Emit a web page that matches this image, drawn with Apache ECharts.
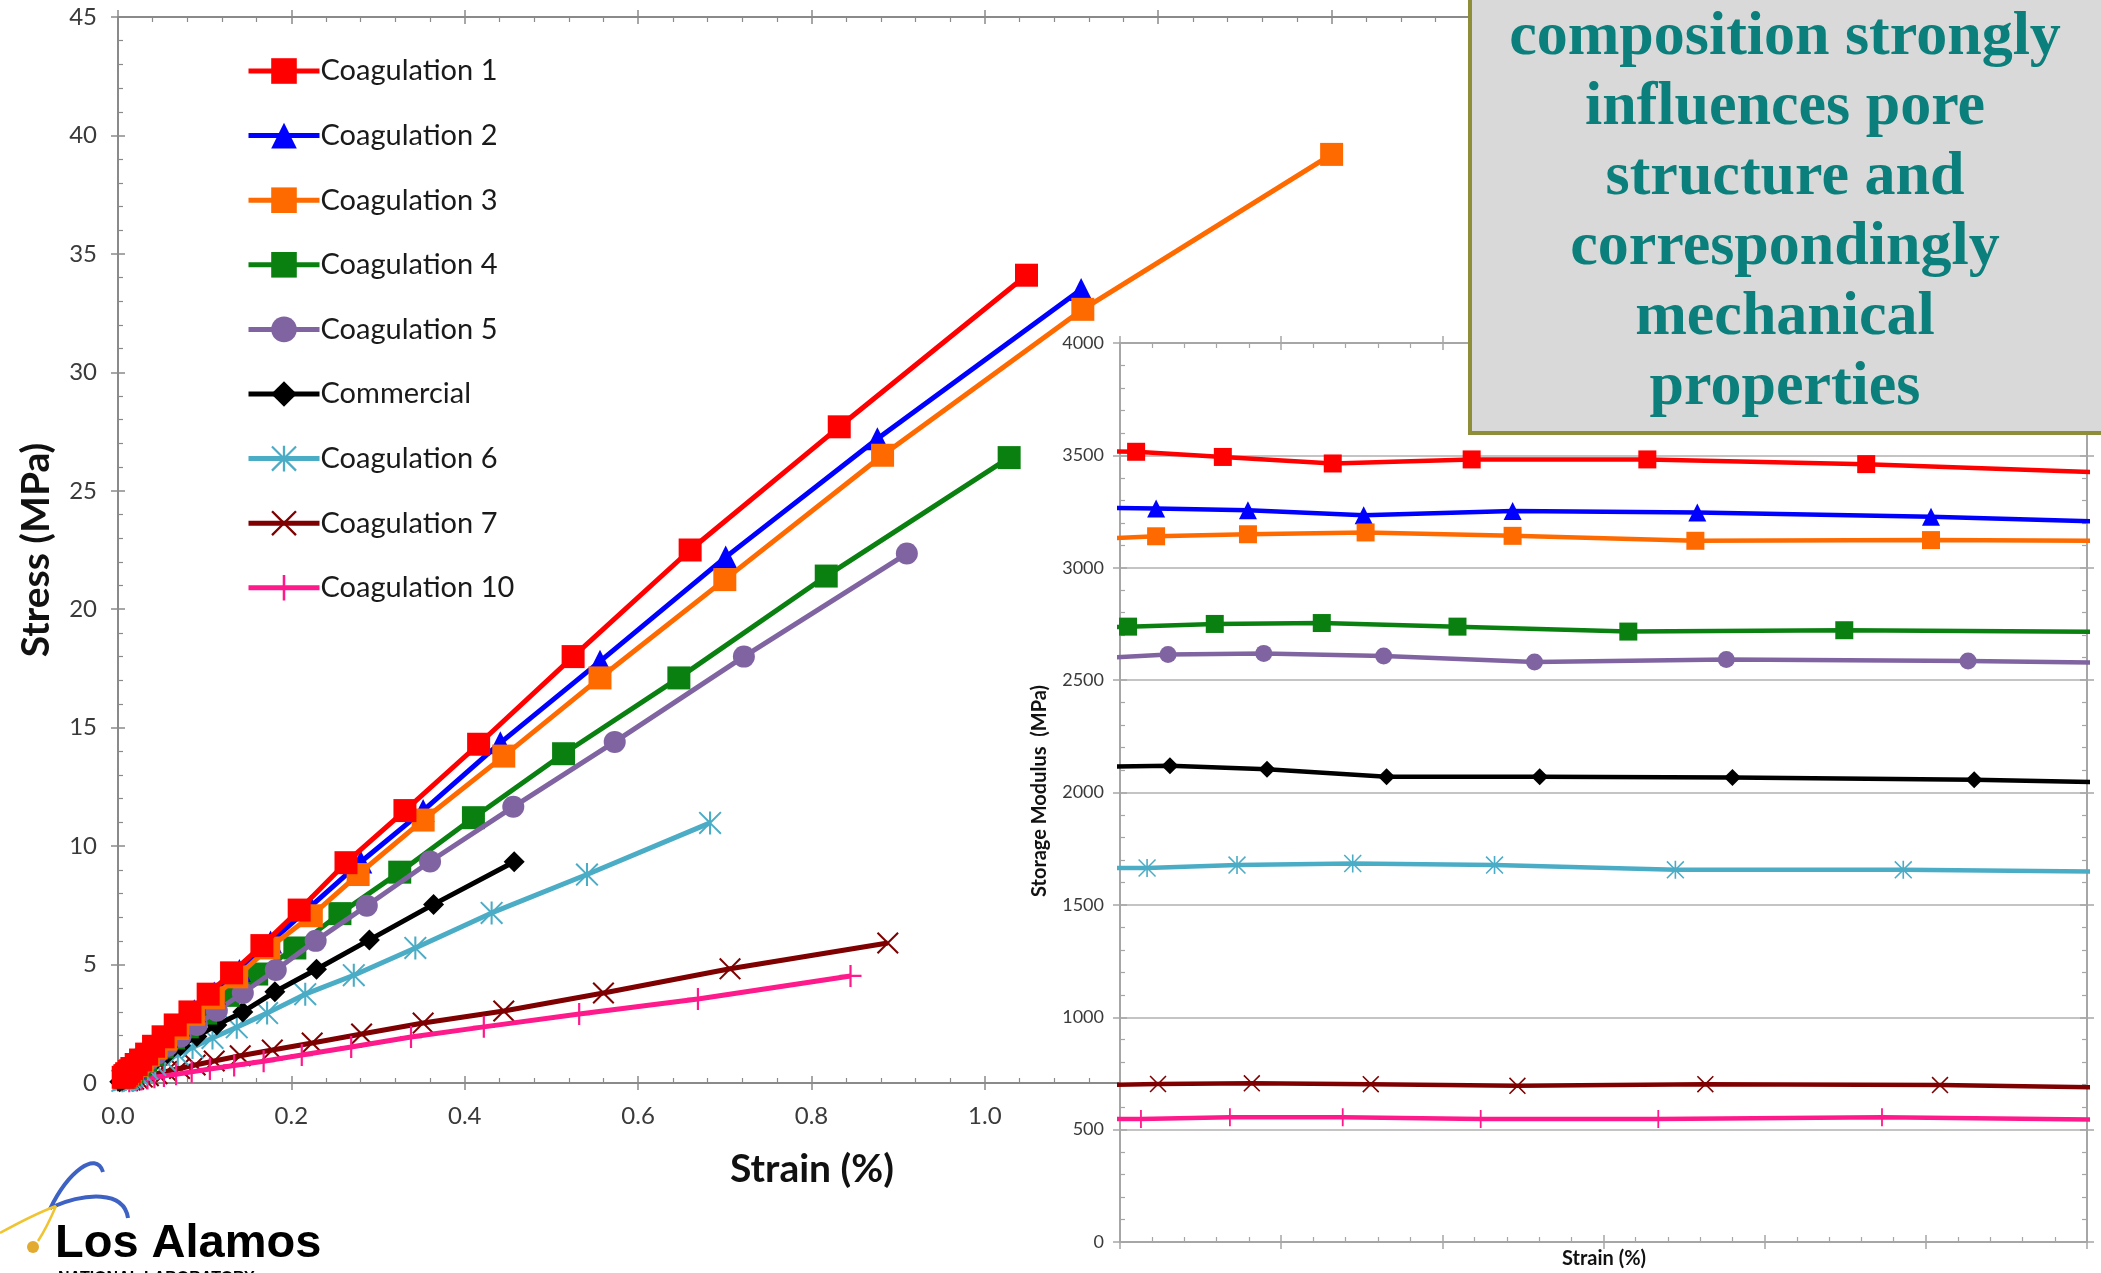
<!DOCTYPE html>
<html><head><meta charset="utf-8">
<script src="https://cdn.jsdelivr.net/npm/echarts@6/dist/echarts.min.js"></script>
<style>html,body{margin:0;padding:0;background:#fff;overflow:hidden}#c{width:2101px;height:1273px}</style>
</head><body><div id="c"></div>
<script>
// ---------------- DATA ----------------
const seriesNames = ['Coagulation 1','Coagulation 2','Coagulation 3','Coagulation 4','Coagulation 5','Commercial','Coagulation 6','Coagulation 7','Coagulation 10'];

// Main chart: strain (%) and stress (MPa)
const c1Strain = [1.048,0.832,0.660,0.525,0.416,0.331,0.263,0.209,0.166,0.131,0.104,0.083,0.066,0.052,0.041,0.033,0.026,0.021,0.016,0.013,0.010,0.008,0.006];
const c1Stress = [34.1,27.7,22.5,18.0,14.3,11.5,9.3,7.3,5.8,4.65,3.75,3.0,2.45,1.95,1.55,1.22,0.97,0.78,0.61,0.49,0.39,0.31,0.24];
const c2Strain = [1.111,0.876,0.701,0.556,0.441,0.352,0.280,0.222,0.176,0.140,0.111,0.088,0.070,0.056,0.044,0.035,0.028,0.022,0.018,0.014,0.011,0.009];
const c2Stress = [33.5,27.2,22.2,17.8,14.36,11.5,9.33,7.45,5.95,4.75,3.8,3.05,2.45,1.97,1.57,1.25,1.0,0.8,0.64,0.5,0.4,0.32];
const c3Strain = [1.400,1.113,0.882,0.700,0.556,0.445,0.352,0.277,0.223,0.174,0.137,0.110,0.087,0.069,0.055,0.044,0.035,0.028,0.022,0.017,0.014,0.011,0.009];
const c3Stress = [39.2,32.66,26.5,21.25,17.1,13.8,11.1,8.8,7.06,5.7,4.48,3.6,2.9,2.3,1.85,1.48,1.18,0.94,0.75,0.6,0.48,0.38,0.3];
const c4Strain = [1.028,0.817,0.647,0.514,0.410,0.325,0.256,0.204,0.160,0.127,0.101,0.080,0.064,0.051,0.040,0.032,0.025,0.020,0.016,0.013,0.010,0.008];
const c4Stress = [26.4,21.4,17.1,13.9,11.2,8.9,7.15,5.7,4.6,3.7,2.95,2.37,1.9,1.52,1.2,0.96,0.76,0.61,0.49,0.39,0.31,0.25];
const c5Strain = [0.910,0.722,0.573,0.456,0.360,0.287,0.228,0.182,0.144,0.114,0.091,0.072,0.057,0.045,0.036,0.029,0.023,0.018,0.014,0.011,0.009];
const c5Stress = [22.35,18.0,14.4,11.66,9.35,7.48,6.0,4.77,3.8,3.05,2.45,1.95,1.56,1.24,0.99,0.8,0.64,0.5,0.4,0.32,0.26];
const comStrain = [0.457,0.364,0.290,0.229,0.181,0.144,0.114,0.091,0.072,0.057,0.045,0.036,0.029,0.023,0.018,0.014,0.011,0.009,0.007,0.005,0.002];
const comStress = [9.34,7.54,6.04,4.8,3.85,3.0,2.45,1.96,1.57,1.25,1.0,0.8,0.64,0.51,0.41,0.33,0.26,0.21,0.16,0.12,0.05];
const c6Strain = [0.683,0.541,0.431,0.343,0.272,0.216,0.172,0.137,0.109,0.086,0.069,0.054,0.043,0.034,0.027,0.022,0.017,0.014,0.011,0.009,0.007,0.005];
const c6Stress = [10.98,8.8,7.18,5.7,4.55,3.75,2.95,2.35,1.9,1.5,1.2,0.95,0.76,0.6,0.48,0.38,0.3,0.24,0.19,0.15,0.12,0.09];
const c7Strain = [0.888,0.706,0.560,0.445,0.352,0.281,0.224,0.178,0.141,0.111,0.089,0.071,0.056,0.045,0.035,0.028,0.022,0.018,0.014,0.011];
const c7Stress = [5.91,4.82,3.80,3.04,2.53,2.07,1.69,1.39,1.15,0.93,0.76,0.61,0.49,0.39,0.31,0.25,0.2,0.16,0.13,0.1];
const c10Strain = [0.845,0.669,0.532,0.422,0.338,0.269,0.212,0.168,0.134,0.106,0.085,0.067,0.053,0.042,0.034,0.027,0.021,0.017,0.013];
const c10Stress = [4.52,3.55,2.91,2.37,1.94,1.52,1.18,0.92,0.74,0.59,0.47,0.37,0.3,0.24,0.19,0.15,0.12,0.09,0.07];

// Inset: strain position (axis without labels, 0-30) and storage modulus (MPa)
const i1Strain = [-1.6,0.5,3.19,6.6,10.91,16.36,23.15,31.7];
const i1Mod    = [3521,3516,3493,3464,3482,3482,3461,3418];
const i2Strain = [-1.14,1.12,3.97,7.56,12.18,17.91,25.16,34.3];
const i2Mod    = [3268,3264,3256,3234,3252,3246,3227,3190];
const i3Strain = [-1.14,1.12,3.97,7.62,12.18,17.85,25.16,34.3];
const i3Mod    = [3125,3140,3149,3157,3142,3120,3123,3118];
const i4Strain = [-2.1,0.25,2.94,6.26,10.47,15.77,22.47,30.9];
const i4Mod    = [2728,2738,2750,2754,2738,2716,2722,2714];
const i5Strain = [-0.87,1.49,4.46,8.18,12.86,18.81,26.31,35.8];
const i5Mod    = [2596,2614,2619,2607,2581,2592,2585,2568];
const icStrain = [-0.82,1.55,4.56,8.27,13.02,19.0,26.5,36.0];
const icMod    = [2114,2119,2103,2070,2070,2067,2057,2030];
const i6Strain = [-1.37,0.84,3.63,7.22,11.62,17.23,24.3,33.2];
const i6Mod    = [1664,1664,1677,1684,1677,1656,1656,1644];
const i7Strain = [-1.1,1.18,4.09,7.78,12.33,18.16,25.44,34.6];
const i7Mod    = [698,703,706,702,695,702,698,680];
const i10Strain = [-1.55,0.65,3.41,6.91,11.19,16.70,23.64,32.4];
const i10Mod    = [547,547,555,555,547,547,555,541];

const mainXTicks = [0,0.2,0.4,0.6,0.8,1.0,1.2,1.4,1.6];
const mainYTicks = [0,5,10,15,20,25,30,35,40,45];
const insetYTicks = [0,500,1000,1500,2000,2500,3000,3500,4000];
const calloutLines = ['composition strongly','influences pore','structure and','correspondingly','mechanical','properties'];

// ---------------- STYLES ----------------
const P_AST = 'path://M0,1.2 L1.2,0 L10,8.8 L18.8,0 L20,1.2 L11.2,10 L20,18.8 L18.8,20 L10,11.2 L1.2,20 L0,18.8 L8.8,10 Z M9.1,0 L10.9,0 L10.9,20 L9.1,20 Z';
const P_X = 'path://M0,1.3 L1.3,0 L10,8.7 L18.7,0 L20,1.3 L11.3,10 L20,18.7 L18.7,20 L10,11.3 L1.3,20 L0,18.7 L8.7,10 Z';
const P_PLUS = 'path://M9,0 L11,0 L11,9 L20,9 L20,11 L11,11 L11,20 L9,20 L9,11 L0,11 L0,9 L9,9 Z';
const colors = ['#ff0000','#0000ff','#ff6a00','#0a8010','#8064a2','#000000','#4bacc6','#7f0000','#ff1a8c'];
const symbols = ['rect','triangle','rect','rect','circle','diamond',P_AST,P_X,P_PLUS];
const mainSizes = [23,23,23,23,22,21,23,22,22];
const insetSizes = [18,18,18,18,17,17,18,17,18];
const mainZ = [9,7,8,5,6,4,3.5,2.5,3];

const mainData = [[c1Strain,c1Stress],[c2Strain,c2Stress],[c3Strain,c3Stress],[c4Strain,c4Stress],[c5Strain,c5Stress],[comStrain,comStress],[c6Strain,c6Stress],[c7Strain,c7Stress],[c10Strain,c10Stress]];
const insetData = [[i1Strain,i1Mod],[i2Strain,i2Mod],[i3Strain,i3Mod],[i4Strain,i4Mod],[i5Strain,i5Mod],[icStrain,icMod],[i6Strain,i6Mod],[i7Strain,i7Mod],[i10Strain,i10Mod]];
const pair = (xs, ys) => xs.map((x, j) => [x, ys[j]]);

const AX = '#8a8a8a', AXI = '#a6a6a6', LBL = '#3a3a3a';
const FONT = 'Lato, "Open Sans", sans-serif';

function tickAxes(grid, pos, cfg, withLabels, color, z) {
  const base = Object.assign({ gridIndex: grid, type: 'value', position: pos, z: z, silent: true,
    splitLine: { show: false } }, cfg);
  const a = Object.assign({}, base, {
    axisLine: { show: true, onZero: false, lineStyle: { color: color, width: 2 } },
    axisTick: { show: true, inside: false, length: 7, lineStyle: { color: color, width: 1.5 } },
    minorTick: { show: false },
    axisLabel: withLabels || { show: false }
  });
  const b = Object.assign({}, base, {
    axisLine: { show: false, onZero: false },
    axisTick: { show: true, inside: true, length: 7, lineStyle: { color: color, width: 1.5 } },
    minorTick: { show: true, splitNumber: 5, length: 5, lineStyle: { color: color, width: 1.2 } },
    axisLabel: { show: false }
  });
  return [a, b];
}

const mainX = { min: mainXTicks[0], max: mainXTicks[mainXTicks.length - 1], interval: mainXTicks[1] - mainXTicks[0] };
const mainY = { min: mainYTicks[0], max: mainYTicks[mainYTicks.length - 1], interval: mainYTicks[1] - mainYTicks[0] };
const insX = { min: 0, max: 30, interval: 5 };
const insY = { min: insetYTicks[0], max: insetYTicks[insetYTicks.length - 1], interval: insetYTicks[1] - insetYTicks[0] };

const xAxes = [].concat(
  tickAxes(0, 'bottom', mainX, { show: true, margin: 21, fontSize: 24, color: LBL, fontFamily: FONT, formatter: v => v.toFixed(1) }, AX, 0),
  tickAxes(0, 'top', mainX, null, AX, 0),
  tickAxes(1, 'bottom', insX, null, AXI, 11),
  tickAxes(1, 'top', insX, null, AXI, 11)
);
const yMainA = tickAxes(0, 'left', mainY, { show: true, margin: 21, fontSize: 24, color: LBL, fontFamily: FONT }, AX, 0);
const yInsA = tickAxes(1, 'left', insY, { show: true, margin: 16, fontSize: 18, color: LBL, fontFamily: FONT, formatter: v => String(v) }, AXI, 11);
yInsA[0].splitLine = { show: true, lineStyle: { color: '#c4c4c4', width: 2 } };
const yInsR = tickAxes(1, 'right', insY, null, AXI, 11);
const yAxes = [].concat(yMainA, yInsA, yInsR);

const series = [];
seriesNames.forEach((n, i) => {
  series.push({
    type: 'line', name: n, xAxisIndex: 0, yAxisIndex: 0, z: mainZ[i],
    data: pair(mainData[i][0], mainData[i][1]),
    symbol: symbols[i], symbolSize: mainSizes[i], showSymbol: true, clip: true,
    lineStyle: { color: colors[i], width: 5 },
    itemStyle: { color: colors[i], borderWidth: 0 },
    emphasis: { disabled: true }, animation: false
  });
});
seriesNames.forEach((n, i) => {
  series.push({
    type: 'line', name: 'inset ' + n, xAxisIndex: 4, yAxisIndex: 2, z: 12,
    data: pair(insetData[i][0], insetData[i][1]),
    symbol: symbols[i], symbolSize: insetSizes[i], showSymbol: true, clip: true,
    lineStyle: { color: colors[i], width: 4.5 },
    itemStyle: { color: colors[i], borderWidth: 0 },
    emphasis: { disabled: true }, animation: false
  });
});

const graphics = [
  // callout box
  { type: 'rect', z: 40, shape: { x: 1470, y: -10, width: 700, height: 443 },
    style: { fill: '#d9d9d9', stroke: '#8e8e38', lineWidth: 4 } },
  { type: 'text', z: 41, x: 1785, y: 3,
    style: { text: calloutLines.join('\n'), fill: '#0a7f7b', textAlign: 'center', textVerticalAlign: 'top',
      font: 'bold 62px "Liberation Serif", serif', lineHeight: 70 } },
  // axis titles
  { type: 'text', z: 20, x: 36, y: 550, rotation: Math.PI / 2,
    style: { text: 'Stress (MPa)', fill: '#111', textAlign: 'center', textVerticalAlign: 'middle', font: 'bold 39px Lato, sans-serif' } },
  { type: 'text', z: 20, x: 812, y: 1169,
    style: { text: 'Strain (%)', fill: '#111', textAlign: 'center', textVerticalAlign: 'middle', font: 'bold 39px Lato, sans-serif' } },
  { type: 'text', z: 20, x: 1040, y: 791, rotation: Math.PI / 2,
    style: { text: 'Storage Modulus  (MPa)', fill: '#111', textAlign: 'center', textVerticalAlign: 'middle', font: 'bold 20px Lato, sans-serif' } },
  { type: 'text', z: 20, x: 1604, y: 1259,
    style: { text: 'Strain (%)', fill: '#111', textAlign: 'center', textVerticalAlign: 'middle', font: 'bold 20px Lato, sans-serif' } },
  // logo
  { type: 'bezierCurve', z: 20, shape: { x1: 50, y1: 1209, cpx1: 68, cpy1: 1172, cpx2: 96, cpy2: 1150, x2: 103, y2: 1172 },
    style: { stroke: '#3d62c4', lineWidth: 4, fill: null } },
  { type: 'bezierCurve', z: 20, shape: { x1: 52, y1: 1207, cpx1: 85, cpy1: 1193, cpx2: 124, cpy2: 1190, x2: 128, y2: 1218 },
    style: { stroke: '#3d62c4', lineWidth: 4, fill: null } },
  { type: 'bezierCurve', z: 20, shape: { x1: 0, y1: 1233, cpx1: 20, cpy1: 1222, cpx2: 40, cpy2: 1212, x2: 56, y2: 1206 },
    style: { stroke: '#f0c431', lineWidth: 2.5, fill: null } },
  { type: 'bezierCurve', z: 20, shape: { x1: 56, y1: 1206, cpx1: 50, cpy1: 1220, cpx2: 44, cpy2: 1232, x2: 38, y2: 1241 },
    style: { stroke: '#f0c431', lineWidth: 2.5, fill: null } },
  { type: 'circle', z: 20, shape: { cx: 33, cy: 1247, r: 6 }, style: { fill: '#e2aa2e' } },
  { type: 'text', z: 20, x: 55, y: 1268,
    style: { text: 'Los Alamos', fill: '#000', textAlign: 'left', textVerticalAlign: 'bottom', font: 'bold 47px "Liberation Sans", Arial, sans-serif' } },
  { type: 'text', z: 20, x: 58, y: 1271,
    style: { text: 'NATIONAL LABORATORY', fill: '#000', textAlign: 'left', textVerticalAlign: 'top', font: 'bold 16px "Liberation Sans", Arial, sans-serif' } }
];

const option = {
  animation: false,
  backgroundColor: '#ffffff',
  grid: [
    { left: 118, top: 17, width: 1387, height: 1066, containLabel: false, show: false },
    { left: 1120, top: 343, width: 967, height: 899, containLabel: false, show: true, z: 10,
      backgroundColor: '#ffffff', borderWidth: 0 }
  ],
  xAxis: xAxes,
  yAxis: yAxes,
  legend: {
    data: seriesNames, orient: 'vertical', left: 246, top: 56, padding: 0,
    itemWidth: 71, itemHeight: 32, itemGap: 34.6, selectedMode: false,
    lineStyle: { width: 5 },
    textStyle: { fontFamily: FONT, fontSize: 29, color: '#1a1a1a', lineHeight: 30, padding: [0, 0, 0, -4] }
  },
  series: series,
  graphic: graphics
};

const chart = echarts.init(document.getElementById('c'), null, { renderer: 'canvas', width: 2101, height: 1273 });
chart.setOption(option);
</script></body></html>
